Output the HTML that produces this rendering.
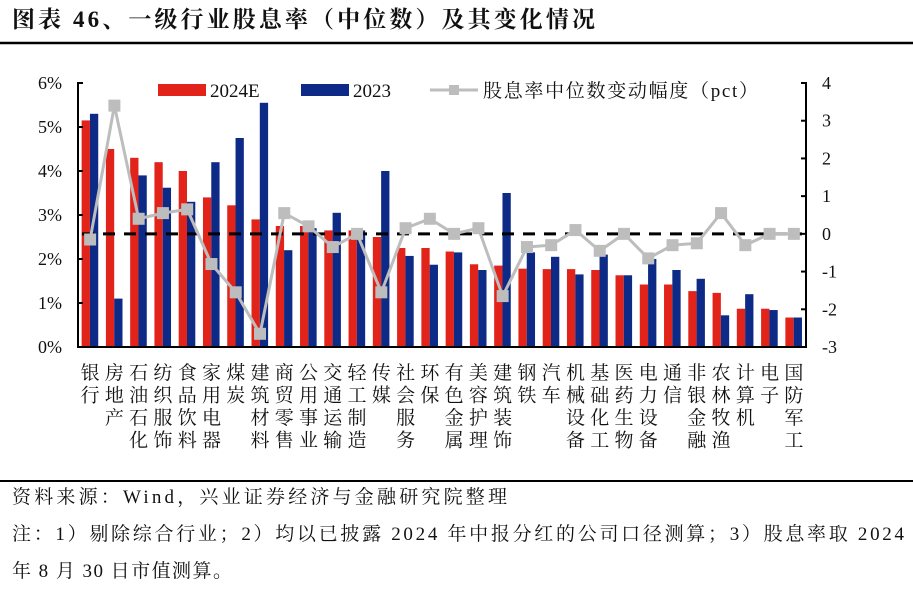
<!DOCTYPE html>
<html><head><meta charset="utf-8"><style>
body{margin:0;background:#fff;width:913px;height:588px;overflow:hidden;font-family:"Liberation Serif","Noto Serif CJK SC",serif;}
svg text{font-family:"Liberation Serif","Noto Serif CJK SC",serif;}
</style></head><body>
<svg id="c" width="913" height="588" viewBox="0 0 913 588">
<text x="12" y="27" font-size="23" font-weight="bold" fill="#111" textLength="583" lengthAdjust="spacing">图表 46、一级行业股息率（中位数）及其变化情况</text>
<line x1="0" y1="43" x2="913" y2="43" stroke="#000" stroke-width="2.5"/>
<line x1="0" y1="481" x2="913" y2="481" stroke="#000" stroke-width="2"/>
<text x="12" y="503" font-size="19" fill="#111" textLength="495" lengthAdjust="spacing">资料来源：Wind，兴业证券经济与金融研究院整理</text>
<text x="12" y="540" font-size="19" fill="#111" textLength="892" lengthAdjust="spacing">注：1）剔除综合行业；2）均以已披露 2024 年中报分红的公司口径测算；3）股息率取 2024</text>
<text x="12" y="577" font-size="19" fill="#111" textLength="220" lengthAdjust="spacing">年 8 月 30 日市值测算。</text>
<g id="plot"></g>
</svg>
<script>
const labels=["银行","房地产","石油石化","纺织服饰","食品饮料","家用电器","煤炭","建筑材料","商贸零售","公用事业","交通运输","轻工制造","传媒","社会服务","环保","有色金属","美容护理","建筑装饰","钢铁","汽车","机械设备","基础化工","医药生物","电力设备","通信","非银金融","农林牧渔","计算机","电子","国防军工"];
const y2024=[5.15,4.5,4.3,4.2,4.0,3.4,3.22,2.9,2.75,2.75,2.65,2.65,2.5,2.25,2.25,2.17,1.88,1.85,1.78,1.77,1.77,1.75,1.63,1.42,1.42,1.27,1.23,0.87,0.87,0.67];
const y2023=[5.3,1.1,3.9,3.62,3.3,4.2,4.75,5.55,2.2,2.7,3.05,2.65,4.0,2.07,1.87,2.15,1.75,3.5,2.15,2.05,1.65,2.1,1.63,2.0,1.75,1.55,0.72,1.2,0.84,0.67];
const change=[-0.15,3.4,0.4,0.55,0.65,-0.8,-1.55,-2.65,0.55,0.2,-0.35,0,-1.55,0.15,0.4,0,0.15,-1.65,-0.35,-0.3,0.1,-0.45,0,-0.65,-0.3,-0.25,0.55,-0.3,0,0];
const leftTicks=["0%","1%","2%","3%","4%","5%","6%"];
const rightTicks=["-3","-2","-1","0","1","2","3","4"];
</script>
<script>
const NS="http://www.w3.org/2000/svg";
const g=document.getElementById('plot');
const X0=78,X1=806,YB=347,YT=83;
const n=labels.length;
const cw=(X1-X0)/n;
const yL=v=>YB-(v/6)*(YB-YT);
const yR=v=>YB-((v+3)/7)*(YB-YT);
const xc=i=>X0+cw*(i+0.5);
function mk(t,a){const e=document.createElementNS(NS,t);for(const k in a)e.setAttribute(k,a[k]);g.appendChild(e);return e;}
const N=Math.min(n,y2024.length,y2023.length,change.length);
for(let i=0;i<N;i++){
  const r=mk('rect',{x:xc(i)-8.5,y:yL(y2024[i]),width:8.3,height:YB-yL(y2024[i]),fill:'#e2231a'});
  
  
  const b=mk('rect',{x:xc(i)-0.2,y:yL(y2023[i]),width:8.3,height:YB-yL(y2023[i]),fill:'#0d2a86'});
  
  
}
const zl=mk('line',{x1:X0+4,x2:X1-4,y1:yR(0),y2:yR(0),stroke:'#000','stroke-width':3,'stroke-dasharray':'12,9'});


let pts=[];for(let i=0;i<N;i++)pts.push(xc(i)+','+yR(change[i]));
const pl=mk('polyline',{points:pts.join(' '),fill:'none',stroke:'#bdbdbd','stroke-width':3});


for(let i=0;i<N;i++){
  const m=mk('rect',{x:xc(i)-6,y:yR(change[i])-6,width:12,height:12,fill:'#bdbdbd'});
  
  
}
const la=mk('path',{d:`M${X0+5},${YT} H${X0} V${YB} H${X1} V${YT} H${X1-5}`,fill:'none',stroke:'#000','stroke-width':2});


leftTicks.forEach((t,i)=>{
  const y=yL(i);
  const tk=mk('line',{x1:X0,x2:X0+5,y1:y,y2:y,stroke:'#000','stroke-width':2});
  
  
  const tx=mk('text',{x:X0-16,y:y+6,'font-size':18,'text-anchor':'end',fill:'#111'});tx.textContent=t;
  
  
});
rightTicks.forEach((t,i)=>{
  const y=yR(+t);
  const tk=mk('line',{x1:X1-5,x2:X1,y1:y,y2:y,stroke:'#000','stroke-width':2});
  
  
  const tx=mk('text',{x:X1+16,y:y+6,'font-size':18,fill:'#111'});tx.textContent=t;
  
  
});
for(let i=0;i<N;i++){
  const chars=[...labels[i]];
  chars.forEach((c,j)=>{
    const t=mk('text',{x:xc(i),y:379+j*22.5,'font-size':19,'text-anchor':'middle',fill:'#111'});t.textContent=c;
    
    
  });
}
const l1=mk('rect',{x:158,y:84,width:48,height:12,fill:'#e2231a'});


const t1=mk('text',{x:210,y:97,'font-size':19,fill:'#111'});t1.textContent='2024E';


const l2=mk('rect',{x:301,y:84,width:48,height:12,fill:'#0d2a86'});


const t2=mk('text',{x:353,y:97,'font-size':19,fill:'#111'});t2.textContent='2023';


const l3=mk('line',{x1:430,x2:478,y1:90,y2:90,stroke:'#bdbdbd','stroke-width':3});


const l3m=mk('rect',{x:449,y:85,width:10,height:10,fill:'#bdbdbd'});


const t3=mk('text',{x:483,y:97,'font-size':19,fill:'#111',textLength:275,lengthAdjust:'spacing'});t3.textContent='股息率中位数变动幅度（pct）';


</script>
</body></html>
